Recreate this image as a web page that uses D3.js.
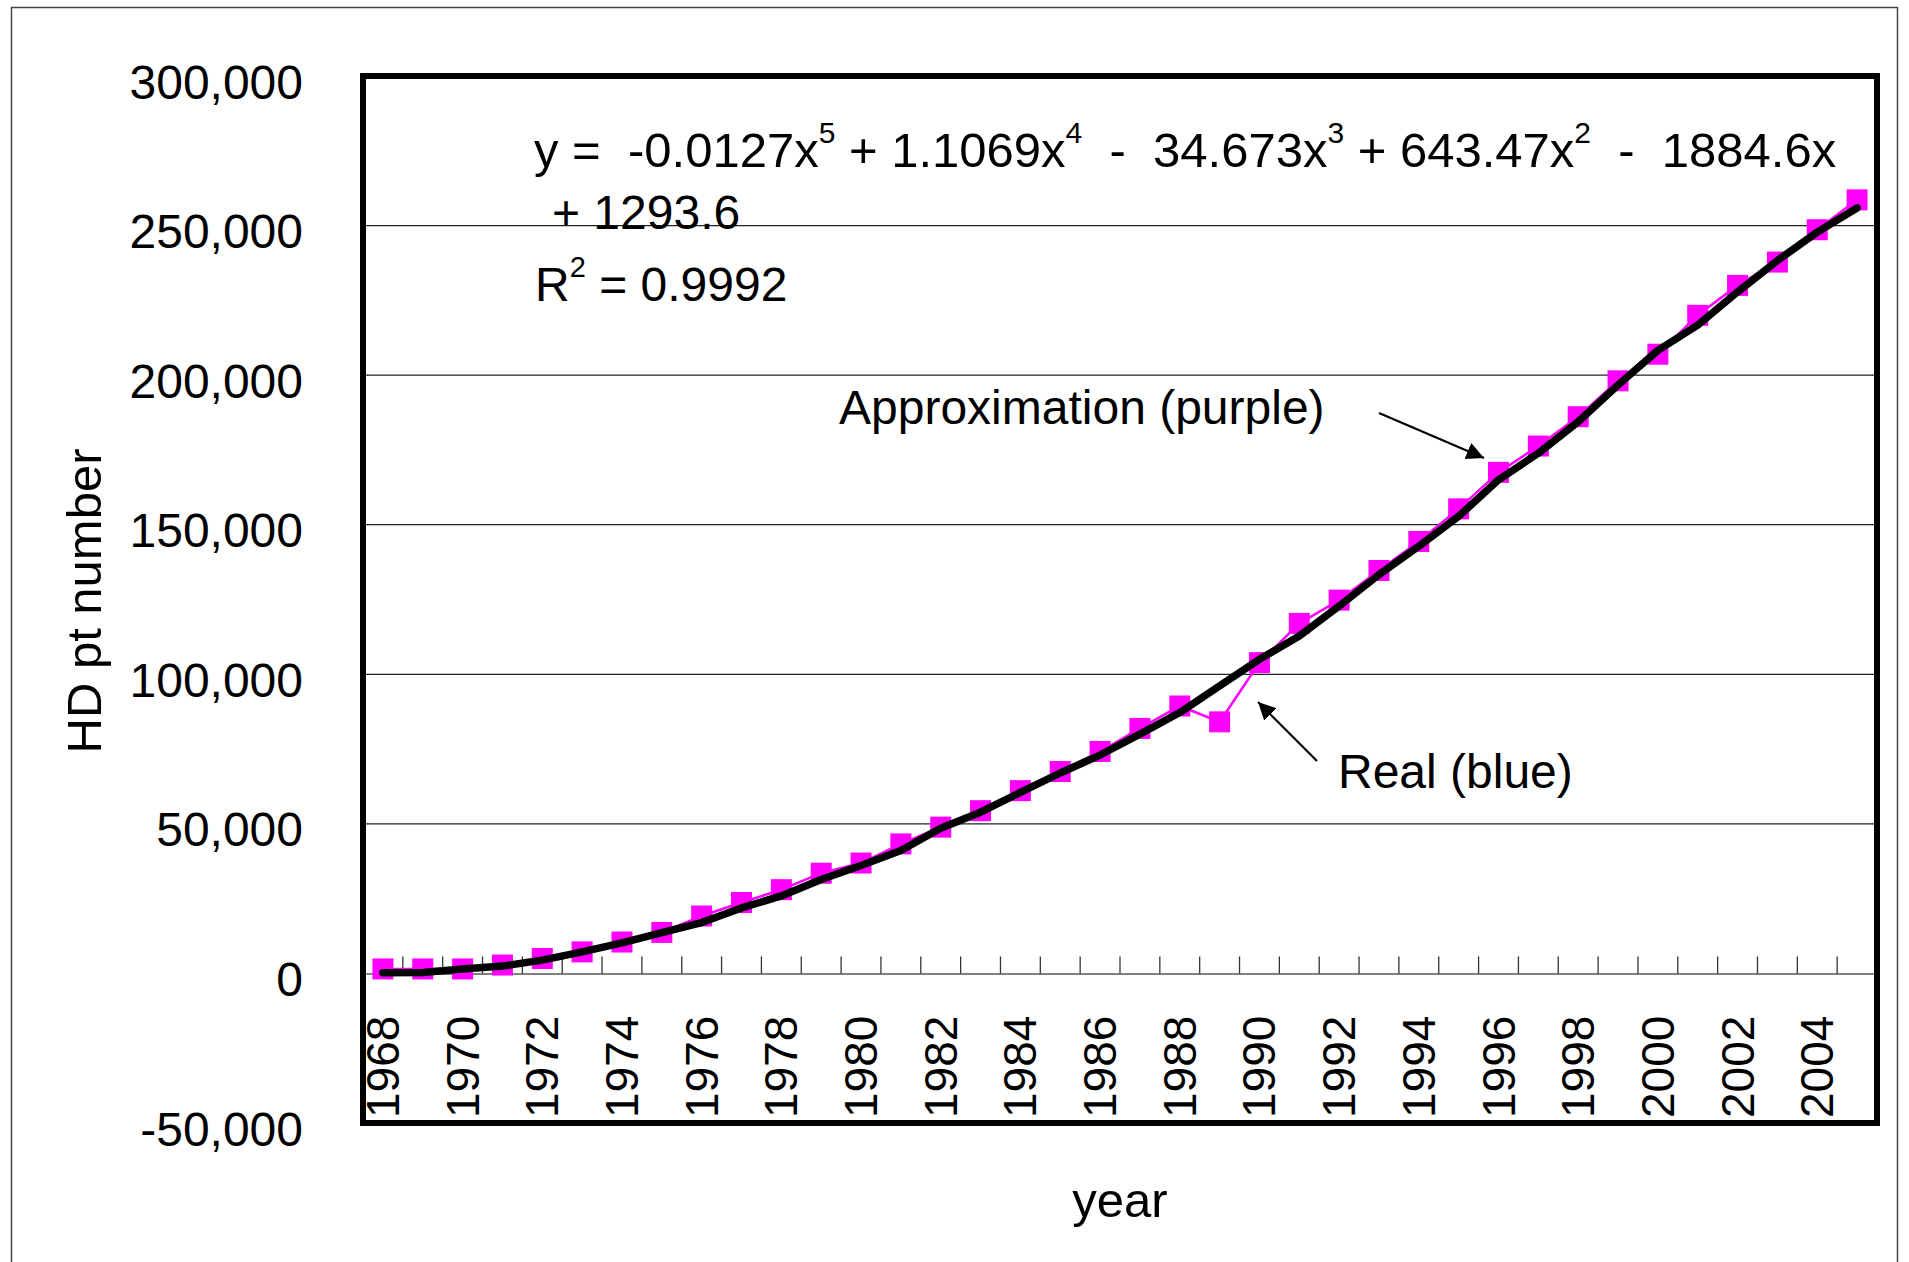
<!DOCTYPE html>
<html lang="en">
<head>
<meta charset="UTF-8">
<title>HD pt number</title>
<script src="https://d3js.org/d3.v7.min.js"></script>
<style>
  body { margin: 0; background: #fff; }
  text { font-family: "Liberation Sans", Arial, sans-serif; fill: #000; }
</style>
</head>
<body>
<div id="chart"></div>
<script>
// data
var years = [1968, 1969, 1970, 1971, 1972, 1973, 1974, 1975, 1976, 1977, 1978, 1979, 1980,
             1981, 1982, 1983, 1984, 1985, 1986, 1987, 1988, 1989, 1990, 1991, 1992, 1993,
             1994, 1995, 1996, 1997, 1998, 1999, 2000, 2001, 2002, 2003, 2004, 2005];

// real values (magenta squares)
var real = [1500, 1500, 1500, 2800, 5000, 7200, 10500, 13700, 19200, 23700, 28000, 33500, 36900,
            43300, 48900, 54400, 61100, 67500, 74200, 81900, 89400, 84100, 103900, 117000, 124800, 134700,
            144400, 155300, 167500, 176300, 186100, 198100, 207000, 220000, 230000, 237800, 248600, 258600];

// approximation (black thick line)
var approx = [200, 300, 1450, 2450, 4450, 7200, 10200, 13650, 17000, 21900, 25900, 31400, 36100,
              41100, 48500, 53900, 60500, 67000, 73000, 80000, 87200, 96100, 105000, 112800, 122800, 133300,
              142800, 152800, 165000, 173900, 184400, 196700, 208300, 216700, 227800, 238300, 247800, 255900];

var yTicks = [-50000, 0, 50000, 100000, 150000, 200000, 250000, 300000];
var yearLabels = [1968, 1970, 1972, 1974, 1976, 1978, 1980, 1982, 1984, 1986, 1988, 1990,
                  1992, 1994, 1996, 1998, 2000, 2002, 2004];

var width = 1909, height = 1262;
var plot = {left: 363, right: 1877, top: 76, bottom: 1123};

var svg = d3.select("#chart").append("svg")
    .attr("width", width)
    .attr("height", height);

svg.append("rect").attr("width", width).attr("height", height).attr("fill", "#fff");

// outer chart frame (bottom runs off the picture)
svg.append("rect")
    .attr("x", 11.5).attr("y", 7.5)
    .attr("width", 1886).attr("height", 1300)
    .attr("fill", "none").attr("stroke", "#444").attr("stroke-width", 1.5);

var x = d3.scaleBand().domain(years).range([plot.left, plot.right]);
var y = d3.scaleLinear().domain([-50000, 300000]).range([plot.bottom, plot.top]);
var cx = function(d) { return x(d) + x.bandwidth() / 2; };

// gridlines
svg.append("g")
  .selectAll("line")
  .data(yTicks.filter(function(d) { return d > 0 && d < 300000; }))
  .enter().append("line")
    .attr("x1", plot.left).attr("x2", plot.right)
    .attr("y1", function(d) { return y(d); })
    .attr("y2", function(d) { return y(d); })
    .attr("stroke", "#222").attr("stroke-width", 1.3);

// category axis sitting on zero, ticks between the years, pointing up
var xAxis = d3.axisTop(x).tickSize(0).tickFormat("");
var gx = svg.append("g")
    .attr("transform", "translate(0," + y(0) + ")")
    .call(xAxis);
gx.select(".domain").attr("stroke", "#808080").attr("stroke-width", 2);

svg.append("g")
  .selectAll("line")
  .data(years.slice(1))
  .enter().append("line")
    .attr("x1", function(d) { return x(d); })
    .attr("x2", function(d) { return x(d); })
    .attr("y1", y(0)).attr("y2", y(0) - 17)
    .attr("stroke", "#333").attr("stroke-width", 1.3);

// year labels, rotated, inside the plot below zero
svg.append("g")
  .selectAll("text")
  .data(yearLabels)
  .enter().append("text")
    .attr("transform", function(d) {
      return "translate(" + (cx(d) + 16) + ",1118) rotate(-90)";
    })
    .style("font-size", "46px")
    .text(function(d) { return d; });

// y axis labels
var yAxis = d3.axisLeft(y).tickValues(yTicks).tickSize(0)
    .tickFormat(d3.format(","));
var gy = svg.append("g")
    .attr("transform", "translate(303,0)")
    .call(yAxis);
gy.select(".domain").remove();
gy.selectAll("text")
    .attr("x", 0).attr("dy", "0.46em")
    .attr("fill", "#000")
    .style("font-size", "48px")
    .style("font-family", "'Liberation Sans', Arial, sans-serif")
    .text(function(d) { return d3.format(",")(d).replace("−", "-"); });

// real series: thin magenta line + squares
var lineReal = d3.line()
    .x(function(d, i) { return cx(years[i]); })
    .y(function(d) { return y(d); });

svg.append("path")
    .datum(real)
    .attr("d", lineReal)
    .attr("fill", "none").attr("stroke", "#ff00ff").attr("stroke-width", 2.5);

svg.append("g")
  .selectAll("rect")
  .data(real)
  .enter().append("rect")
    .attr("x", function(d, i) { return cx(years[i]) - 10.5; })
    .attr("y", function(d) { return y(d) - 10.5; })
    .attr("width", 21).attr("height", 21)
    .attr("fill", "#ff00ff");

// approximation: thick black line
svg.append("path")
    .datum(approx)
    .attr("d", lineReal)
    .attr("fill", "none").attr("stroke", "#000").attr("stroke-width", 7.5)
    .attr("stroke-linejoin", "round").attr("stroke-linecap", "round");

// plot frame
svg.append("rect")
    .attr("x", plot.left).attr("y", plot.top)
    .attr("width", plot.right - plot.left).attr("height", plot.bottom - plot.top)
    .attr("fill", "none").attr("stroke", "#000").attr("stroke-width", 6);

// axis titles
svg.append("text")
    .attr("transform", "translate(101,601) rotate(-90)")
    .attr("text-anchor", "middle")
    .style("font-size", "49px")
    .text("HD pt number");

svg.append("text")
    .attr("x", 1120).attr("y", 1217)
    .attr("text-anchor", "middle")
    .style("font-size", "49px")
    .text("year");

// trendline equation: main text and superscripts alternate
var eq = svg.append("text")
    .attr("x", 534).attr("y", 167)
    .style("font-size", "49px")
    .attr("xml:space", "preserve")
    .style("white-space", "pre");
var eqParts = ["y =  -0.0127x", " + 1.1069x", "  -  34.673x", " + 643.47x", "  -  1884.6x"];
var eqPowers = ["5", "4", "3", "2"];
eqParts.forEach(function(p, i) {
  eq.append("tspan").attr("dy", i > 0 ? 24 : 0).text(p);
  if (i < eqPowers.length) {
    eq.append("tspan").attr("dy", -24).style("font-size", "30px").text(eqPowers[i]);
  }
});

svg.append("text")
    .attr("x", 552).attr("y", 229)
    .style("font-size", "48px")
    .text("+ 1293.6");

var r2 = svg.append("text")
    .attr("x", 535).attr("y", 301)
    .style("font-size", "48px")
    .attr("xml:space", "preserve")
    .style("white-space", "pre");
r2.append("tspan").text("R");
r2.append("tspan").attr("dy", -24).style("font-size", "29px").text("2");
r2.append("tspan").attr("dy", 24).text(" = 0.9992");

// annotations with arrows
var defs = svg.append("defs");
defs.append("marker")
    .attr("id", "arrow")
    .attr("viewBox", "0 0 10 10")
    .attr("refX", 10).attr("refY", 5)
    .attr("markerWidth", 8).attr("markerHeight", 8)
    .attr("markerUnits", "strokeWidth")
    .attr("orient", "auto")
  .append("path")
    .attr("d", "M0,0 L10,5 L0,10 z")
    .attr("fill", "#000");

svg.append("text")
    .attr("x", 839).attr("y", 424)
    .style("font-size", "48px")
    .text("Approximation (purple)");

svg.append("line")
    .attr("x1", 1379).attr("y1", 413).attr("x2", 1484).attr("y2", 458)
    .attr("stroke", "#000").attr("stroke-width", 2.2)
    .attr("marker-end", "url(#arrow)");

svg.append("text")
    .attr("x", 1338).attr("y", 788)
    .style("font-size", "48px")
    .text("Real (blue)");

svg.append("line")
    .attr("x1", 1317).attr("y1", 761).attr("x2", 1258).attr("y2", 702)
    .attr("stroke", "#000").attr("stroke-width", 2.2)
    .attr("marker-end", "url(#arrow)");
</script>
</body>
</html>
